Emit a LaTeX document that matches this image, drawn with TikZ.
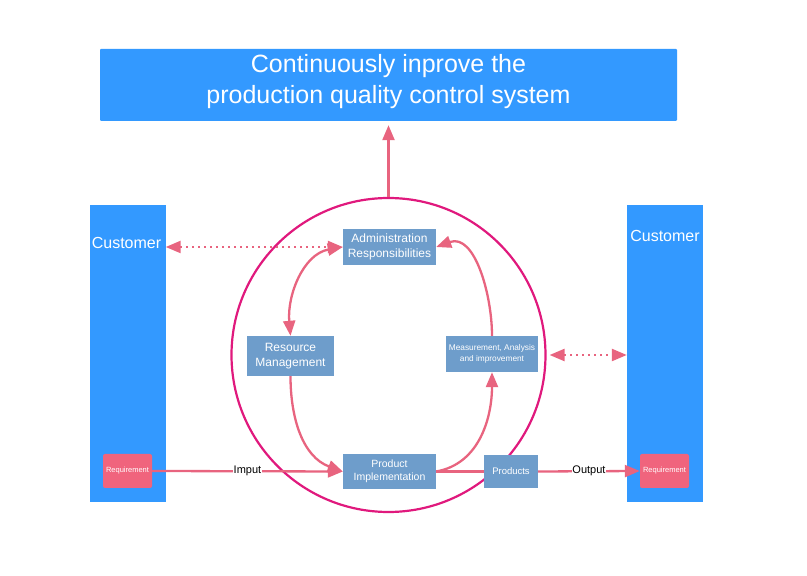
\documentclass[tikz,border=0pt]{standalone}
\usepackage{fontspec}
\setmainfont{Liberation Sans}
\usetikzlibrary{arrows.meta}
\definecolor{barblue}{RGB}{51,153,255}
\definecolor{boxsteel}{RGB}{110,157,203}
\definecolor{reqred}{RGB}{240,100,125}
\definecolor{flowpink}{RGB}{232,100,127}
\definecolor{loopmag}{RGB}{224,25,125}

\begin{document}
\begin{tikzpicture}[x=1pt,y=1pt,
  stepbox/.style={fill=boxsteel, text=white, inner sep=0pt, align=center},
  custbar/.style={fill=barblue, minimum width=76, minimum height=297, inner sep=0pt},
  custtext/.style={text=white, inner sep=0pt, font=\fontsize{16}{18}\selectfont},
  reqbox/.style={fill=reqred, text=white, rounded corners=2pt, minimum width=49, minimum height=34, inner sep=0pt, font=\fontsize{7.5}{9}\selectfont},
  flow/.style={draw=flowpink, line width=2.3pt, -{Triangle[length=15pt,width=12pt]}},
  dotflow/.style={draw=flowpink, line width=2.3pt, dash pattern=on 2pt off 4pt, {Triangle[length=15pt,width=12pt]}-{Triangle[length=15pt,width=12pt]}},
  flowlabel/.style={fill=white, inner sep=0.5pt, text=black, font=\fontsize{11}{13}\selectfont}]
  \useasboundingbox (0,0) rectangle (807,576);

  % goal on top
  \node[fill=barblue, minimum width=577, minimum height=72, rounded corners=1pt] (goal) at (388.5,491) {};
  \node[text=white, align=center, font=\fontsize{25}{31}\selectfont, inner sep=0pt] (goaltext) at (388.5,494.5) {Continuously inprove the\\production quality control system};

  % customers on both sides
  \node[custbar] (lcust) at (127.5,222.5) {};
  \node[custbar] (rcust) at (665,222.5) {};
  \node[custtext] (lname) at (126.5,333) {Customer};
  \node[custtext] (rname) at (665,340) {Customer};
  \node[reqbox] (lreq) at (127.5,105) {Requirement};
  \node[reqbox] (rreq) at (664.5,105) {Requirement};

  % the loop
  \node[draw=loopmag, line width=2.2pt, circle, minimum size=314, inner sep=0pt] (loop) at (388.5,221) {};

  \node[stepbox, minimum width=93, minimum height=36, font=\fontsize{12}{15}\selectfont] (admin) at (389.5,329) {Administration\\Responsibilities};
  \node[stepbox, minimum width=87, minimum height=40, font=\fontsize{12}{15}\selectfont] (res) at (290.5,220) {Resource\\Management};
  \node[stepbox, minimum width=92, minimum height=36, font=\fontsize{8.3}{11}\selectfont] (meas) at (492,222) {Measurement, Analysis\\and improvement};
  \node[stepbox, minimum width=93, minimum height=35, font=\fontsize{10.5}{13}\selectfont] (prod) at (389.5,104.5) {Product\\Implementation};
  \node[stepbox, minimum width=54, minimum height=33, font=\fontsize{9.5}{12}\selectfont] (out) at (511,104.5) {Products};

  \draw[flow] (loop.north) -- ([yshift=-4pt]goal.south);
  \draw[dotflow] (lcust.east |- admin.west) -- (admin.west);
  \draw[dotflow] ([xshift=3pt]loop.east) -- (rcust.west |- loop.east);

  \draw[flow, {Triangle[length=15pt,width=12pt]}-{Triangle[length=15pt,width=12pt]}] (admin.west) to[out=190,in=95] (res.north);
  \draw[flow] (res.south) to[out=-90,in=160] (prod.west);
  \draw[flow] (prod.east) to[out=10,in=-90] (meas.south);
  \draw[flow] (meas.north) to[out=90,in=20] (admin.east);

  \draw[flow] (lreq.east) -- node[flowlabel] (inlabel) {Imput} (prod.west);
  \draw[draw=flowpink, line width=2.3pt] (prod.east) -- (out.west);
  \draw[flow] (out.east) -- node[flowlabel] (outlabel) {Output} (rreq.west);
\end{tikzpicture}
\end{document}
